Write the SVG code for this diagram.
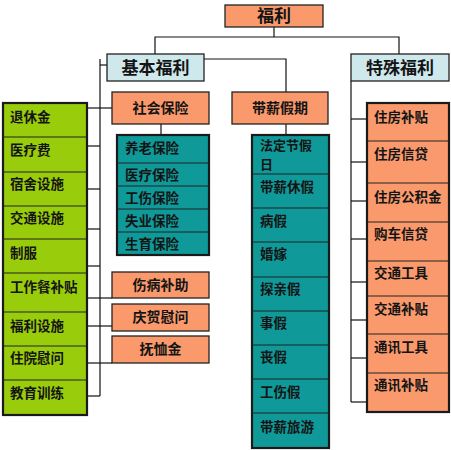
<svg xmlns="http://www.w3.org/2000/svg" width="451" height="450" viewBox="0 0 451 450">
<style>
.bg{fill:#ffffff}
.sal{fill:#FA9A6C;stroke:#222;stroke-width:1.3}
.lb{fill:#CFE8EC;stroke:#222;stroke-width:1.3}
.grn{fill:#99CC0A;stroke:#1a1a1a;stroke-width:2.2}
.tea{fill:#0F9999;stroke:#1a1a1a;stroke-width:2.2}
.salc{fill:#FA9A6C;stroke:#1a1a1a;stroke-width:2.2}
.div{stroke:#222;stroke-width:1;fill:none}
.ln{stroke:#111;stroke-width:1.2;fill:none}
text{font-family:"Noto Sans CJK SC","Noto Sans CJK TC",sans-serif;font-weight:bold;fill:#141414;font-size:13.5px}
.big{font-size:17px}
.mid{font-size:14px}
.sm{font-size:13px}
.c{text-anchor:middle}
</style>
<rect class="bg" x="0" y="0" width="451" height="450"/>
<g id="connectors">
<polyline class="ln" points="274,27 274,37"/>
<polyline class="ln" points="155,54 155,37 399,37 399,54"/>
<polyline class="ln" points="204,59 286,59 286,92"/>
<polyline class="ln" points="161,124 161,135"/>
<polyline class="ln" points="286,124 286,135"/>
<polyline class="ln" points="100,59 100,396"/>
<polyline class="ln" points="100,65 107,65"/>
<polyline class="ln" points="87,108 112,108"/>
<polyline class="ln" points="87,146 100,146"/>
<polyline class="ln" points="87,189 100,189"/>
<polyline class="ln" points="87,229 100,229"/>
<polyline class="ln" points="87,266 100,266"/>
<polyline class="ln" points="87,298 112,298"/>
<polyline class="ln" points="87,326 112,326"/>
<polyline class="ln" points="87,363 112,363"/>
<polyline class="ln" points="87,396 100,396"/>
<polyline class="ln" points="351,81 351,402"/>
<polyline class="ln" points="351,119 367,119"/>
<polyline class="ln" points="351,162 367,162"/>
<polyline class="ln" points="351,201 367,201"/>
<polyline class="ln" points="351,239 367,239"/>
<polyline class="ln" points="351,282 367,282"/>
<polyline class="ln" points="351,320 367,320"/>
<polyline class="ln" points="351,358 367,358"/>
<polyline class="ln" points="351,402 367,402"/>
</g>
<g id="fuli">
<rect class="sal" x="225" y="5" width="98" height="22"/>
<text class="big c" x="274" y="22">福利</text>
</g>
<g id="jiben">
<rect class="lb" x="107" y="54" width="97" height="27"/>
<text class="big c" x="155.5" y="74">基本福利</text>
</g>
<g id="teshu">
<rect class="lb" x="351" y="54" width="98" height="27"/>
<text class="big c" x="400" y="74">特殊福利</text>
</g>
<g id="shehui">
<rect class="sal" x="112" y="92" width="97" height="32"/>
<text class="mid c" x="160.5" y="113">社会保险</text>
</g>
<g id="daixin">
<rect class="sal" x="232" y="92" width="96" height="32"/>
<text class="mid c" x="280" y="113">带薪假期</text>
</g>
<g id="shangbing">
<rect class="sal" x="112" y="272" width="97" height="26"/>
<text class="mid c" x="160.5" y="290">伤病补助</text>
</g>
<g id="qinghe">
<rect class="sal" x="112" y="304" width="97" height="27"/>
<text class="mid c" x="160.5" y="322">庆贺慰问</text>
</g>
<g id="fuxu">
<rect class="sal" x="112" y="336" width="97" height="27"/>
<text class="mid c" x="160.5" y="354">抚恤金</text>
</g>
<g id="green-col">
<rect class="grn" x="3" y="103" width="84" height="312"/>
<path class="div" d="M3,137H87M3,172H87M3,206H87M3,239H87M3,273H87M3,312H87M3,346H87M3,380H87"/>
<text x="10" y="122">退休金</text>
<text x="10" y="155">医疗费</text>
<text x="10" y="189">宿舍设施</text>
<text x="10" y="223">交通设施</text>
<text x="10" y="258">制服</text>
<text x="10" y="292">工作餐补贴</text>
<text x="10" y="331">福利设施</text>
<text x="10" y="363">住院慰问</text>
<text x="10" y="398">教育训练</text>
</g>
<g id="insurance-col">
<rect class="tea" x="117" y="135" width="92" height="120"/>
<path class="div" d="M117,163H209M117,186H209M117,209H209M117,232H209"/>
<text x="125" y="153">养老保险</text>
<text x="125" y="180">医疗保险</text>
<text x="125" y="203">工伤保险</text>
<text x="125" y="226">失业保险</text>
<text x="125" y="249">生育保险</text>
</g>
<g id="leave-col">
<rect class="tea" x="252" y="135" width="77" height="313"/>
<path class="div" d="M252,174H329M252,208H329M252,242H329M252,277H329M252,311H329M252,345H329M252,379H329M252,413H329"/>
<text class="sm" x="260" y="150">法定节假</text>
<text class="sm" x="260" y="169">日</text>
<text x="260" y="192">带薪休假</text>
<text x="260" y="226">病假</text>
<text x="260" y="259">婚嫁</text>
<text x="260" y="294">探亲假</text>
<text x="260" y="328">事假</text>
<text x="260" y="362">丧假</text>
<text x="260" y="397">工伤假</text>
<text x="260" y="432">带薪旅游</text>
</g>
<g id="special-col">
<rect class="salc" x="367" y="103" width="82" height="309"/>
<path class="div" d="M367,141H449M367,183H449M367,222H449M367,261H449M367,296H449M367,334H449M367,373H449"/>
<text x="374" y="122">住房补贴</text>
<text x="374" y="159">住房信贷</text>
<text x="374" y="202">住房公积金</text>
<text x="374" y="239">购车信贷</text>
<text x="374" y="278">交通工具</text>
<text x="374" y="314">交通补贴</text>
<text x="374" y="352">通讯工具</text>
<text x="374" y="390">通讯补贴</text>
</g>
</svg>
